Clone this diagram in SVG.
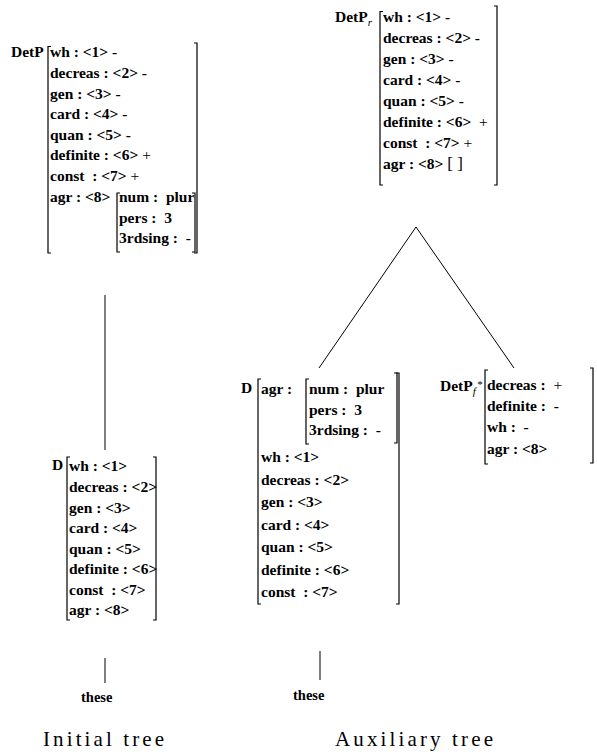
<svg xmlns="http://www.w3.org/2000/svg" width="597" height="754" viewBox="0 0 597 754">
<style>
text{font-family:"Liberation Serif","Times New Roman",serif;font-size:15.5px;font-weight:bold;fill:#000;white-space:pre}
.sub{font-style:italic;font-weight:normal;font-size:11px}
.n{font-weight:normal}
.w{font-size:14.5px}
.cap{font-family:"Liberation Serif","Times New Roman",serif;font-weight:normal;font-size:21px}
.br{fill:none;stroke:#000;stroke-width:1.2}
.ln{stroke:#000;stroke-width:1}
</style>
<g id="connectors">
<line class="ln" x1="105" y1="295" x2="105" y2="450"/>
<line class="ln" x1="105" y1="658" x2="105" y2="683"/>
<line class="ln" x1="416" y1="227" x2="319" y2="368"/>
<line class="ln" x1="416" y1="227" x2="514" y2="368"/>
<line class="ln" x1="320" y1="651" x2="320" y2="680"/>
</g>
<g id="detp">
<text x="11" y="57">DetP</text>
<path class="br" d="M51 46.5H48V253H51"/>
<path class="br" d="M194 43H197V253H194"/>
<text x="50" y="57">wh : &lt;1&gt; -</text>
<text x="50" y="78">decreas : &lt;2&gt; -</text>
<text x="50" y="98.5">gen : &lt;3&gt; -</text>
<text x="50" y="119">card : &lt;4&gt; -</text>
<text x="50" y="139.5">quan : &lt;5&gt; -</text>
<text x="50" y="160">definite : &lt;6&gt; <tspan class="n">+</tspan></text>
<text x="50" y="181">const  : &lt;7&gt; <tspan class="n">+</tspan></text>
<text x="50" y="201.5">agr : &lt;8&gt;</text>
<path class="br" d="M120 193H117V252H120"/>
<path class="br" d="M192 193H195V252H192"/>
<text x="119" y="201.5">num :  plur</text>
<text x="119" y="222.5">pers :  3</text>
<text x="119" y="243">3rdsing :  -</text>
</g>
<g id="detp-r">
<text x="335" y="22">DetP<tspan class="sub" dy="4">r</tspan></text>
<path class="br" d="M383 11.5H380V185H383"/>
<path class="br" d="M494 6H497V185H494"/>
<text x="383" y="22">wh : &lt;1&gt; -</text>
<text x="383" y="42.5">decreas : &lt;2&gt; -</text>
<text x="383" y="63.5">gen : &lt;3&gt; -</text>
<text x="383" y="84.5">card : &lt;4&gt; -</text>
<text x="383" y="105.5">quan : &lt;5&gt; -</text>
<text x="383" y="126.5">definite : &lt;6&gt;  <tspan class="n">+</tspan></text>
<text x="383" y="147.5">const  : &lt;7&gt; <tspan class="n">+</tspan></text>
<text x="383" y="168.5">agr : &lt;8&gt; <tspan class="n" font-size="17">[ ]</tspan></text>
</g>
<g id="d-initial">
<text x="52" y="470">D</text>
<path class="br" d="M70 457H67V620H70"/>
<path class="br" d="M153 457H156V620H153"/>
<text x="69" y="471">wh : &lt;1&gt;</text>
<text x="69" y="492">decreas : &lt;2&gt;</text>
<text x="69" y="512.5">gen : &lt;3&gt;</text>
<text x="69" y="533">card : &lt;4&gt;</text>
<text x="69" y="554">quan : &lt;5&gt;</text>
<text x="69" y="574">definite : &lt;6&gt;</text>
<text x="69" y="594.5">const  : &lt;7&gt;</text>
<text x="69" y="615">agr : &lt;8&gt;</text>
</g>
<g id="these-initial">
<text class="w" x="81" y="702">these</text>
</g>
<g id="d-aux">
<text x="241" y="393">D</text>
<path class="br" d="M261 379H258V604H261"/>
<path class="br" d="M396 373H399V604H396"/>
<text x="261" y="394">agr :</text>
<path class="br" d="M309 379H306V444H309"/>
<path class="br" d="M394 373H397V443H394"/>
<text x="309" y="394">num :  plur</text>
<text x="309" y="414.5">pers :  3</text>
<text x="309" y="434.5">3rdsing :  -</text>
<text x="261" y="462">wh : &lt;1&gt;</text>
<text x="261" y="484.5">decreas : &lt;2&gt;</text>
<text x="261" y="507">gen : &lt;3&gt;</text>
<text x="261" y="529.5">card : &lt;4&gt;</text>
<text x="261" y="552">quan : &lt;5&gt;</text>
<text x="261" y="574.5">definite : &lt;6&gt;</text>
<text x="261" y="597">const  : &lt;7&gt;</text>
</g>
<g id="these-aux">
<text class="w" x="293" y="700">these</text>
</g>
<g id="detp-f">
<text x="440" y="391">DetP<tspan class="sub" dy="4">f</tspan><tspan class="sub" font-size="14" dy="-7" dx="1">*</tspan></text>
<path class="br" d="M488 370H485V464H488"/>
<path class="br" d="M590 368H593V463H590"/>
<text x="487" y="390">decreas :  <tspan class="n">+</tspan></text>
<text x="487" y="411">definite :  -</text>
<text x="487" y="432">wh :  -</text>
<text x="487" y="454">agr : &lt;8&gt;</text>
</g>
<g id="captions">
<text class="cap" x="43" y="746" textLength="121" lengthAdjust="spacing">Initial tree</text>
<text class="cap" x="335" y="746" textLength="158" lengthAdjust="spacing">Auxiliary tree</text>
</g>
</svg>
